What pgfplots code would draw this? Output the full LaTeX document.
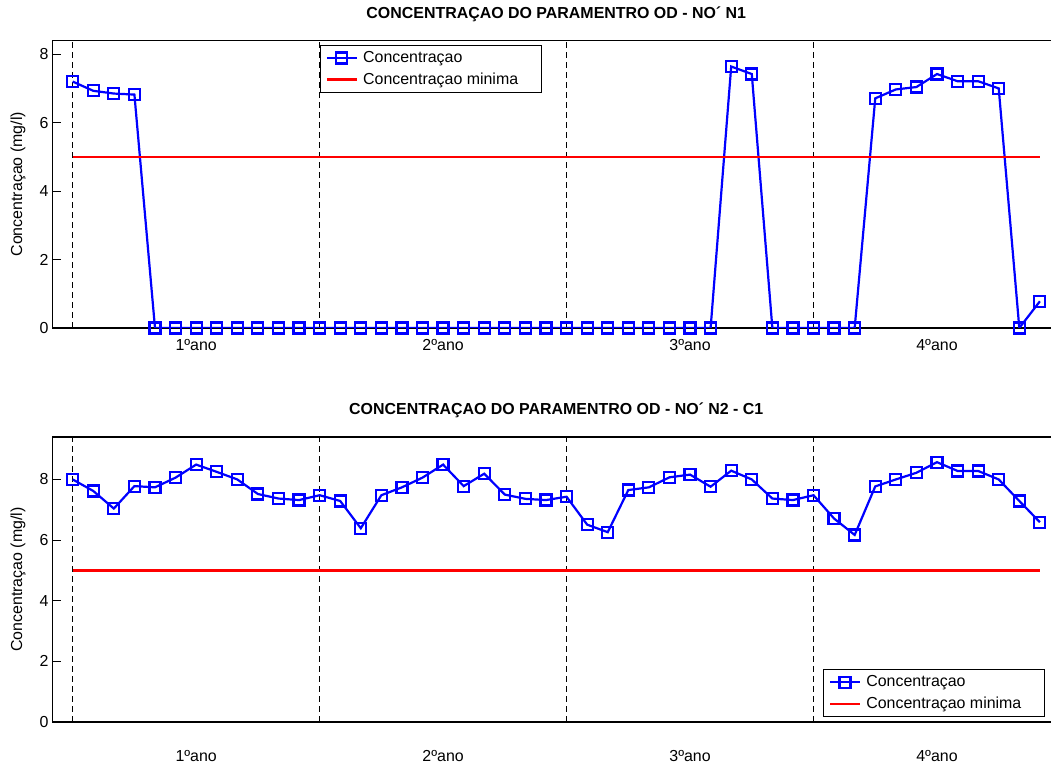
\documentclass[border=0pt]{standalone}
\usepackage{fontspec}
\setmainfont{Liberation Sans}
\usepackage{pgfplots}
\pgfplotsset{compat=1.18}
\begin{document}
\begin{tikzpicture}
\useasboundingbox (0,0) rectangle (1051bp,763bp);
\pgfplotsset{
 od/.style={
   scale only axis, width=1008.4bp,
   xmin=0, xmax=49,
   xtick={7,19,31,43}, xticklabels={1ºano,2ºano,3ºano,4ºano},
   ytick={0,2,4,6,8},
   tick align=inside, major tick length=9bp,
   x tick style={draw=none},
   /pgf/number format/assume math mode=true,
   font=\fontsize{16}{19}\selectfont,
   axis line style={line width=1.1bp},
   tick style={line width=1bp, black},
   ylabel={Concentraçao (mg/l)},
   ylabel style={at={(axis description cs:-0.0337,0.5)}, anchor=center},
   title style={font=\bfseries\fontsize{16}{19}\selectfont, at={(axis description cs:0.5,1)}, anchor=base, yshift=16.5bp},
   legend cell align=left,
   legend style={draw=black, line width=1.1bp, font=\fontsize{16}{19}\selectfont, inner xsep=5bp, inner ysep=4bp, row sep=5bp,
     nodes={inner xsep=5bp}},
   legend image code/.code={\draw[mark repeat=2,mark phase=2,##1] plot coordinates {(0bp,0bp) (15bp,0bp) (30bp,0bp)};},
 },
 conc/.style={color={rgb,255:red,0;green,0;blue,255}, line width=2.2bp, mark=square, mark size=5.5bp, mark options={solid, line width=2.2bp}},
 minl/.style={color={rgb,255:red,255;green,0;blue,0}, line width=2.6bp},
 yr/.style={black, dash pattern=on 6bp off 4bp, line width=1bp, forget plot},
}
\begin{axis}[od, at={(52.1bp,435bp)}, anchor=south west, height=287.5bp,
  ymin=0, ymax=8.4,
  title={CONCENTRAÇAO DO PARAMENTRO OD - NO´ N1},
  xticklabel style={anchor=base, yshift=-22.5bp},
  legend style={at={(0.2657,0.984)}, anchor=north west}]
\addplot[yr] coordinates {(1,0) (1,8.4)};
\addplot[yr] coordinates {(13,0) (13,8.4)};
\addplot[yr] coordinates {(25,0) (25,8.4)};
\addplot[yr] coordinates {(37,0) (37,8.4)};
\addplot[conc] coordinates {
(1,7.20) (2,6.93) (3,6.85) (4,6.82) (5,0) (6,0) (7,0) (8,0) (9,0) (10,0) (11,0) (12,0)
(13,0) (14,0) (15,0) (16,0) (17,0) (18,0) (19,0) (20,0) (21,0) (22,0) (23,0) (24,0)
(25,0) (26,0) (27,0) (28,0) (29,0) (30,0) (31,0) (32,0) (33,7.64) (34,7.42) (35,0) (36,0)
(37,0) (38,0) (39,0) (40,6.71) (41,6.97) (42,7.04) (43,7.42) (44,7.21) (45,7.21) (46,7.00) (47,0) (48,0.78)};
\addlegendentry{Concentraçao}
\addplot[minl] coordinates {(1,5) (48,5)};
\addlegendentry{Concentraçao minima\rule{13bp}{0pt}}
\end{axis}
\begin{axis}[od, at={(52.1bp,41bp)}, anchor=south west, height=285bp,
  ymin=0, ymax=9.4,
  title={CONCENTRAÇAO DO PARAMENTRO OD - NO´ N2 - C1},
  xticklabel style={anchor=base, yshift=-39bp},
  legend style={at={(0.9846,0.0175)}, anchor=south east}]
\addplot[yr] coordinates {(1,0) (1,9.4)};
\addplot[yr] coordinates {(13,0) (13,9.4)};
\addplot[yr] coordinates {(25,0) (25,9.4)};
\addplot[yr] coordinates {(37,0) (37,9.4)};
\addplot[conc] coordinates {
(1,8.00) (2,7.62) (3,7.04) (4,7.78) (5,7.74) (6,8.06) (7,8.49) (8,8.25) (9,8.00) (10,7.52) (11,7.37) (12,7.32)
(13,7.48) (14,7.29) (15,6.39) (16,7.48) (17,7.74) (18,8.06) (19,8.49) (20,7.78) (21,8.19) (22,7.50) (23,7.36) (24,7.32)
(25,7.43) (26,6.51) (27,6.26) (28,7.65) (29,7.74) (30,8.07) (31,8.16) (32,7.76) (33,8.29) (34,8.00) (35,7.37) (36,7.32)
(37,7.48) (38,6.71) (39,6.17) (40,7.77) (41,8.00) (42,8.22) (43,8.57) (44,8.28) (45,8.28) (46,8.00) (47,7.29) (48,6.59)};
\addlegendentry{Concentraçao}
\addplot[minl] coordinates {(1,5) (48,5)};
\addlegendentry{Concentraçao minima\rule{13bp}{0pt}}
\end{axis}
\end{tikzpicture}
\end{document}
